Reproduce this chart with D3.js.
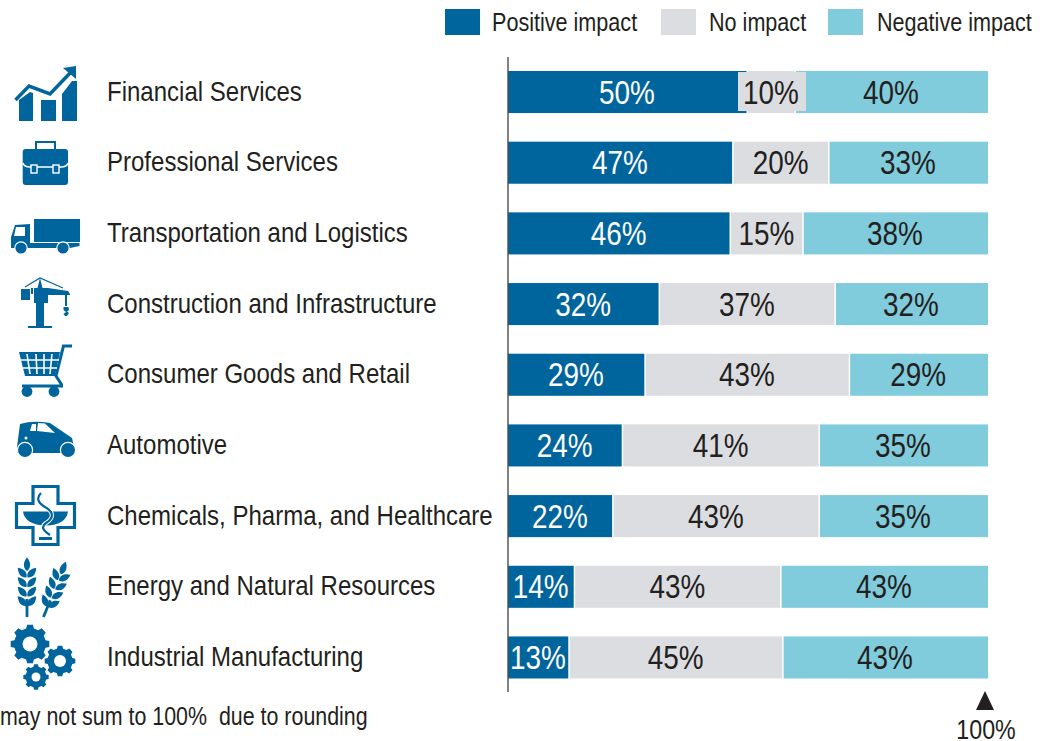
<!DOCTYPE html>
<html><head><meta charset="utf-8">
<script src="https://cdn.jsdelivr.net/npm/d3@7"></script>
<style>html,body{margin:0;padding:0;background:#fff;overflow:hidden}svg{display:block}
text{font-family:"Liberation Sans",sans-serif;fill:#231f20;white-space:pre}</style>
</head><body><svg id="c" width="1049" height="741"></svg>
<script>
const categories=["Financial Services","Professional Services","Transportation and Logistics","Construction and Infrastructure","Consumer Goods and Retail","Automotive","Chemicals, Pharma, and Healthcare","Energy and Natural Resources","Industrial Manufacturing"];
const positive=[50,47,46,32,29,24,22,14,13];
const none=[10,20,15,37,43,41,43,43,45];
const negative=[40,33,38,32,29,35,35,43,43];
const seriesNames=["Positive impact","No impact","Negative impact"];
const seriesColors=["#00659c","#dcdde1","#80cbdc"];
const labelColors=["#fff","#231f20","#231f20"];
const footnote="may not sum to 100%  due to rounding";
const endLabel="100%";

const svg=d3.select("#c");
const rows=categories.map((c,i)=>({c,p:positive[i],n:none[i],g:negative[i]}));
const stack=d3.stack().keys(["p","n","g"]).offset(d3.stackOffsetExpand)(rows);
const x=d3.scaleLinear().domain([0,1]).range([508,988]);
const y=d3.scaleBand().domain(categories).range([71,678.5]).paddingInner(0.405).paddingOuter(0);

// condensed text: the reference face is a narrow grotesque
function label(parent,tx,ty,str,size,sx,anchor,color){
  const t=parent.append("text").attr("transform",`translate(${tx},${ty}) scale(${sx},1)`)
    .attr("font-size",size).attr("text-anchor",anchor||"start").text(str);
  if(color) t.style("fill",color);
  return t;
}

// legend
const legX=[445,661,828],legT=[492,709,877];
seriesNames.forEach((s,i)=>{
  svg.append("rect").attr("x",legX[i]).attr("y",9).attr("width",35).attr("height",26).attr("fill",seriesColors[i]);
  label(svg,legT[i],31,s,26.5,0.815);
});

// bars
stack.forEach((s,k)=>{
  svg.append("g").selectAll("rect").data(s).join("rect")
    .attr("x",d=>x(d[0])).attr("y",d=>y(d.data.c))
    .attr("width",d=>x(d[1])-x(d[0])-(k<2?1.5:0)).attr("height",y.bandwidth())
    .attr("fill",seriesColors[k]);
});
// labels (the narrow first-row segment has a grey plate behind its label)
stack.forEach((s,k)=>{
  s.forEach(d=>{
    const cx=(x(d[0])+x(d[1]))/2, cy=y(d.data.c)+y.bandwidth()/2;
    const val=d.data[["p","n","g"][k]];
    if(k===1&&val===10){
      svg.append("rect").attr("x",cx-34).attr("y",cy-20).attr("width",68).attr("height",39).attr("fill",seriesColors[1]);
    }
    label(svg,cx-1,cy+11.5,val+"%",34,0.82,"middle",labelColors[k]);
  });
});

// category labels
categories.forEach(c=>label(svg,107,y(c)+y.bandwidth()/2+8.5,c,28.5,0.843));

// axis line
svg.append("line").attr("x1",508).attr("x2",508).attr("y1",57).attr("y2",692).attr("stroke","#4d4d4f").attr("stroke-width",1.4);

// footer
label(svg,0,725,footnote,25.5,0.84);
svg.append("path").attr("d",`M${x(1)-3},691L${x(1)+6},710L${x(1)-12},710Z`).attr("fill","#231f20");
label(svg,x(1)-2,739,endLabel,28,0.83,"middle");

// icons
const B="#00659c";
const ic=svg.append("g").attr("fill",B);
const P=(d,a={})=>{const e=ic.append("path").attr("d",d);Object.entries(a).forEach(([k,v])=>e.attr(k,v));return e;};
const W={fill:"#fff"};
// chart icon
P("M19,121V100L30,92L33,93V121Z");P("M41,121V100H56V121Z");P("M62,121V94L72,81L77,81V121Z");
P("M15.5,100L29,86L50,94L72,71",{fill:"none",stroke:B,"stroke-width":3.5});
P("M63,68L76,66L76,79Z");
// briefcase
P("M36,149V142H55V149",{fill:"none",stroke:B,"stroke-width":2});
ic.append("rect").attr("x",22.7).attr("y",149).attr("width",45.3).attr("height",36).attr("rx",3);
P("M23,163Q24,167 30,167H61Q67,167 68,163",{fill:"none",stroke:"#fff","stroke-width":1.4});
[31,53].forEach(a=>ic.append("rect").attr("x",a).attr("y",165).attr("width",6).attr("height",8).attr("fill",B).attr("stroke","#fff").attr("stroke-width",1.4));
// truck
P("M34,219H80V242H34Z");
P("M11,248V237L15,225L30,224V243H79.5V246L70,248Z");
P("M14,236L16,227L25,227V236Z",W);
[21,63].forEach(a=>ic.append("circle").attr("cx",a).attr("cy",248).attr("r",6.2).attr("stroke","#fff").attr("stroke-width",1.2));
// crane
P("M36,303H44V327H36Z");P("M28,326H52V328H28Z");P("M34,288H48V303H34Z");P("M21,289H30V300H21Z");P("M31,288H33V294H31Z");
P("M48,288L68,291L70,294V295H48Z");P("M37.5,288L40,278L42.5,288Z");
P("M25,287L40,278L63,288",{fill:"none",stroke:B,"stroke-width":1.2});
P("M66,294V306",{fill:"none",stroke:B,"stroke-width":2});
P("M63.5,307H68.5L69,310L67,311.5L69,313L67,316H65L63.5,314L66,312L63.5,310Z");
// cart
P("M19,352H60L55,376H25Z");
P("M72,346H63.5L56,376L61.5,384.5V386H22",{fill:"none",stroke:B,"stroke-width":3});
["M27,354L30,374","M36,354L37,374","M44,354V374","M52,354L50,374","M21,360H59","M23,368H57"].forEach(d=>P(d,{fill:"none",stroke:"#fff","stroke-width":1.6}));
[27,54].forEach(a=>ic.append("circle").attr("cx",a).attr("cy",391.5).attr("r",5.4));
// car
P("M17,447L20,424Q33,420 50,423L72,438L74,447L72,453H17Z");
P("M30,431L32,424L36,424V431Z",W);P("M38,423L45,423.5L55,433L37,431Z",W);
[25,68].forEach(a=>ic.append("circle").attr("cx",a).attr("cy",450).attr("r",7.6).attr("stroke","#fff").attr("stroke-width",1.2));
ic.append("circle").attr("cx",26).attr("cy",438).attr("r",1.5).attr("fill","#fff");
// medical cross
P("M33,486.5H58V503.5H74.5V527.5H58V544.5H33V527.5H16.5V503.5H33Z",{fill:"#fff",stroke:B,"stroke-width":3.2});
P("M23,511.5H68Q66,525 46,525.5Q25,525 23,511.5Z");
P("M41,493C36,498 38,503 45,507C54,512 54,518 46,523C40,527 44,531 50,535",{fill:"none",stroke:"#fff","stroke-width":4.2});
P("M41,493C36,498 38,503 45,507C54,512 54,518 46,523C40,527 44,531 50,535",{fill:"none",stroke:B,"stroke-width":2.2});
P("M39,537H52V540H39Z");
// wheat
function wheat(tx,ty,rot){
  const g=ic.append("g").attr("transform",`translate(${tx},${ty}) rotate(${rot})`);
  const leaf="M0,0C-4,-3 -4,-8 0,-13C4,-8 4,-3 0,0Z";
  g.append("path").attr("d","M-1.4,0H1.4V-18H-1.4Z");
  g.append("path").attr("d",leaf).attr("transform","translate(0,-46) scale(1.05)");
  d3.range(4).forEach(i=>{
    [-1,1].forEach(sd=>g.append("path").attr("d",leaf)
      .attr("transform",`translate(${sd*0.5},${-11-i*9.5}) rotate(${sd*42}) scale(1.05,1)`));
  });
}
wheat(27,617,0);wheat(43.5,617,22);
// gears
function gear(cx,cy,r,hole,teeth){
  const pts=[];const n=teeth;
  d3.range(n).forEach(i=>{
    const a=i/n*2*Math.PI,w=Math.PI/n;
    [[-.62,.82],[-.38,1],[.38,1],[.62,.82]].forEach(([o,k])=>{
      const t=a+o*w;pts.push([cx+r*k*Math.cos(t),cy+r*k*Math.sin(t)]);
    });
  });
  ic.append("path").attr("d",d3.line().curve(d3.curveLinearClosed)(pts));
  ic.append("circle").attr("cx",cx).attr("cy",cy).attr("r",hole).attr("fill","#fff");
}
gear(30,644,19.5,7.5,8);gear(60,661,15.5,6,8);gear(36,677,12.8,4.5,8);
</script></body></html>
